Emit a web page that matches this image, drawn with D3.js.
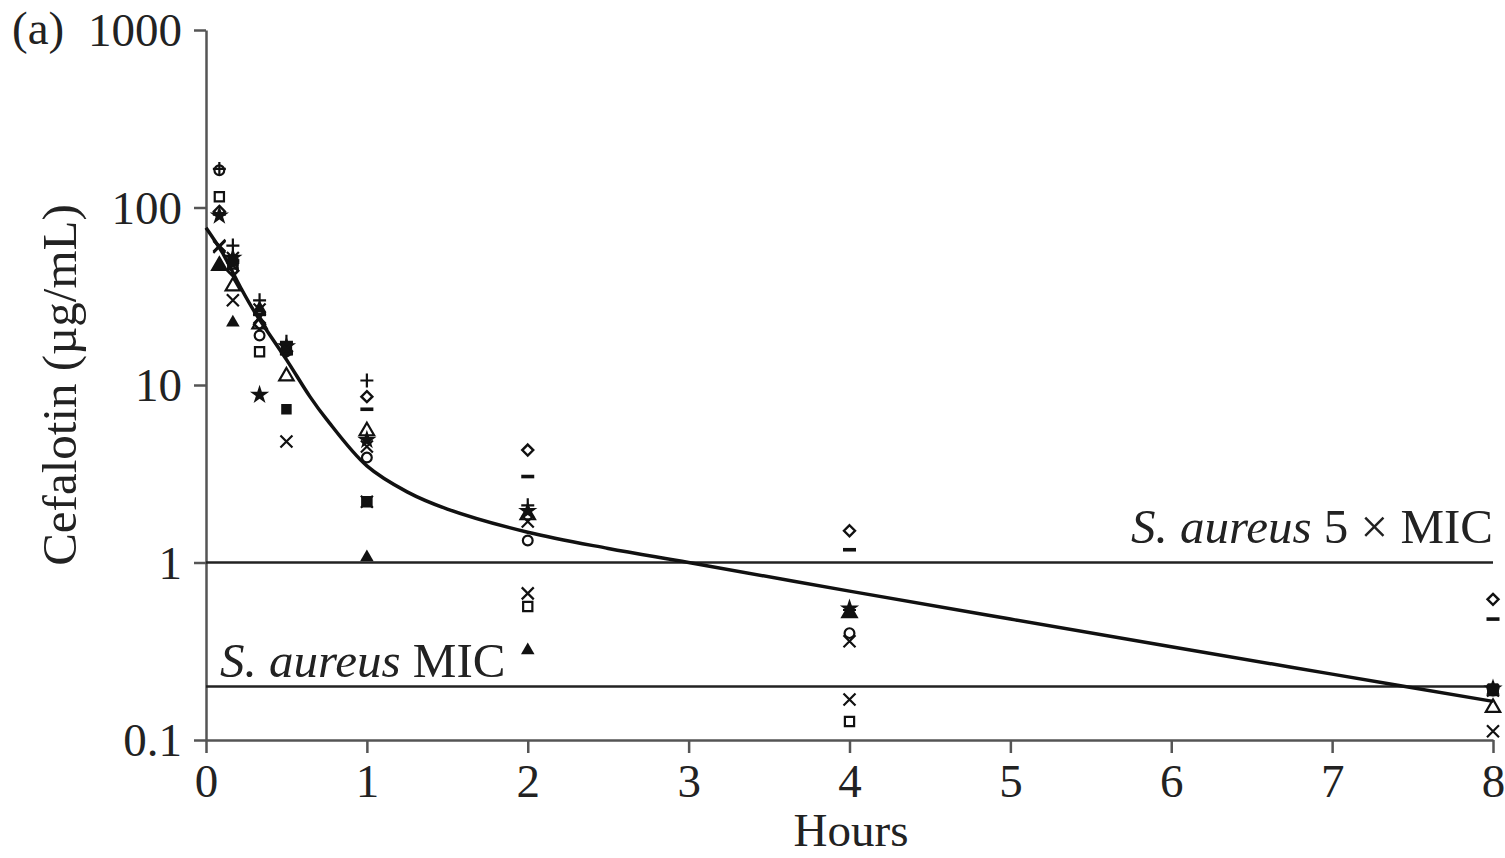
<!DOCTYPE html>
<html>
<head>
<meta charset="utf-8">
<script src="https://cdn.jsdelivr.net/npm/d3@7"></script>
<style>
body { margin: 0; background: #fff; }
text { font-family: "Liberation Serif", "Times New Roman", serif; fill: #222; }
</style>
</head>
<body>
<svg width="1505" height="858"></svg>
<script>
// Sampling times (hours).
var times = [0.083, 0.167, 0.333, 0.5, 1, 2, 4, 8];

// Cefalotin concentrations (ug/mL), one array per subject.
var plusVals      = [165, 61, 30, 17.5, 10.6, 2.1, 0.54, 0.195];
var diamondVals   = [95, 44, 22, 15.5, 8.6, 4.3, 1.51, 0.62];
var dashVals      = [92, 50, 25, 15, 7.3, 3.05, 1.18, 0.48];
var openTriVals   = [47, 36, 22, 11.2, 5.5, 1.85, 0.52, 0.152];
var starVals      = [90, 52, 8.8, 16.5, 4.9, 1.95, 0.55, 0.195];
var circleVals    = [162, 45, 19, 15.5, 3.9, 1.33, 0.40, 0.19];
var filledTriVals = [47, 22.5, 27, 16, 1.07, 0.32, 0.52, 0.19];
var openSqVals    = [115, 48, 15.4, 16, 2.2, 0.565, 0.127, 0.19];
var filledSqVals  = [null, 50, null, 7.3, 2.2, null, null, 0.195];
var crossAVals    = [61, 30, 24, 4.8, 2.2, 0.67, 0.169, 0.112];
var crossBVals    = [60, 52, 26.6, 16, 4.5, 1.7, 0.36, 0.19];

// Fitted curve.
var curveHours = [0, 0.1, 0.211, 0.3, 0.5, 0.646, 0.75, 1, 1.25, 1.5, 2, 2.5, 3, 4, 5, 6, 7, 8];
var curveConc  = [77, 56, 36, 26, 13.9, 8.6, 6.4, 3.5, 2.5, 2.0, 1.48, 1.2, 1.0, 0.69, 0.48, 0.335, 0.235, 0.165];

// Reference lines.
var micLevels = [1, 0.2];
var micLabels = ["5 \u00d7 MIC", "MIC"];

var yTicks = [0.1, 1, 10, 100, 1000];
var xTicks = [0, 1, 2, 3, 4, 5, 6, 7, 8];

var series = [
	{ values: plusVals, marker: "plus" },
	{ values: diamondVals, marker: "diamond" },
	{ values: dashVals, marker: "dash" },
	{ values: openTriVals, marker: "openTri" },
	{ values: starVals, marker: "star" },
	{ values: circleVals, marker: "circle" },
	{ values: filledTriVals, marker: "filledTri" },
	{ values: openSqVals, marker: "openSq" },
	{ values: filledSqVals, marker: "filledSq" },
	{ values: crossAVals, marker: "cross" },
	{ values: crossBVals, marker: "cross" }
];

var svg = d3.select("svg");
var x = d3.scaleLinear().domain([0, 8]).range([206, 1493]);
var y = d3.scaleLog().domain([0.1, 1000]).range([740, 30]);

// Axes.
var yAxis = d3.axisLeft(y).tickValues(yTicks).tickSize(12).tickSizeOuter(0).tickPadding(12)
	.tickFormat(function(d) { return d < 1 ? "0.1" : String(d); });
var xAxis = d3.axisBottom(x).tickValues(xTicks).tickSize(13).tickSizeOuter(0).tickPadding(10)
	.tickFormat(d3.format("d"));

var gy = svg.append("g").attr("transform", "translate(206,0)").call(yAxis);
var gx = svg.append("g").attr("transform", "translate(0,740)").call(xAxis);
[gx, gy].forEach(function(g) {
	g.selectAll("path, line").attr("stroke", "#555").attr("stroke-width", 2.5);
	g.selectAll("text").attr("font-size", 47).attr("fill", "#222")
		.style("font-family", "'Liberation Serif', serif");
});
gy.selectAll("text").attr("dy", "0.34em");
gx.selectAll("text").attr("dy", "0.72em");

// Axis titles.
svg.append("text").attr("x", 12).attr("y", 44).attr("font-size", 47).text("(a)");
svg.append("text")
	.attr("transform", "translate(76,385) rotate(-90)")
	.attr("text-anchor", "middle").attr("font-size", 49)
	.text("Cefalotin (\u00b5g/mL)");
svg.append("text").attr("x", 851).attr("y", 846)
	.attr("text-anchor", "middle").attr("font-size", 47).text("Hours");

// MIC lines and labels.
svg.append("g").selectAll("line").data(micLevels).enter().append("line")
	.attr("x1", x(0)).attr("x2", x(8))
	.attr("y1", function(d) { return y(d); })
	.attr("y2", function(d) { return y(d); })
	.attr("stroke", "#222").attr("stroke-width", 2.5);

var lab5 = svg.append("text").attr("x", 1493).attr("y", y(micLevels[0]) - 20)
	.attr("text-anchor", "end").attr("font-size", 49);
lab5.append("tspan").attr("font-style", "italic").text("S. aureus");
lab5.append("tspan").text(" " + micLabels[0]);

var lab1 = svg.append("text").attr("x", 220).attr("y", y(micLevels[1]) - 10)
	.attr("font-size", 49);
lab1.append("tspan").attr("font-style", "italic").text("S. aureus");
lab1.append("tspan").text(" " + micLabels[1]);

// Fitted curve.
var line = d3.line()
	.x(function(d) { return x(d[0]); })
	.y(function(d) { return y(d[1]); })
	.curve(d3.curveCatmullRom.alpha(0.5));
svg.append("path")
	.datum(d3.zip(curveHours, curveConc))
	.attr("d", line)
	.attr("fill", "none").attr("stroke", "#111").attr("stroke-width", 3.5);

// Markers.
function markerAttrs(kind) {
	switch (kind) {
		case "plus": return { d: "M-6.5,0H6.5M0,-7V7", fill: "none", sw: 2.2 };
		case "cross": return { d: "M-6,-6L6,6M-6,6L6,-6", fill: "none", sw: 2.2 };
		case "dash": return { d: "M-6.5,-1.8H6.5V1.8H-6.5Z", fill: "#111", sw: 0 };
		case "diamond": return { d: "M0,-5.5L5.5,0L0,5.5L-5.5,0Z", fill: "none", sw: 2.4 };
		case "circle": return { d: d3.symbol(d3.symbolCircle, 75)(), fill: "none", sw: 2.2 };
		case "openSq": return { d: d3.symbol(d3.symbolSquare, 85)(), fill: "none", sw: 2.2 };
		case "filledSq": return { d: d3.symbol(d3.symbolSquare, 110)(), fill: "#111", sw: 0 };
		case "openTri": return { d: d3.symbol(d3.symbolTriangle, 90)(), fill: "none", sw: 2.2 };
		case "filledTri": return { d: d3.symbol(d3.symbolTriangle, 80)(), fill: "#111", sw: 0 };
		case "star": return { d: d3.symbol(d3.symbolStar, 115)(), fill: "#111", sw: 0 };
	}
}

var pts = [];
series.forEach(function(s) {
	s.values.forEach(function(v, i) {
		if (v != null) pts.push({ t: times[i], v: v, marker: s.marker });
	});
});

svg.append("g").selectAll("path").data(pts).enter().append("path")
	.attr("transform", function(d) { return "translate(" + x(d.t) + "," + y(d.v) + ")"; })
	.attr("d", function(d) { return markerAttrs(d.marker).d; })
	.attr("fill", function(d) { return markerAttrs(d.marker).fill; })
	.attr("stroke", "#111")
	.attr("stroke-width", function(d) { return markerAttrs(d.marker).sw; });
</script>
</body>
</html>
